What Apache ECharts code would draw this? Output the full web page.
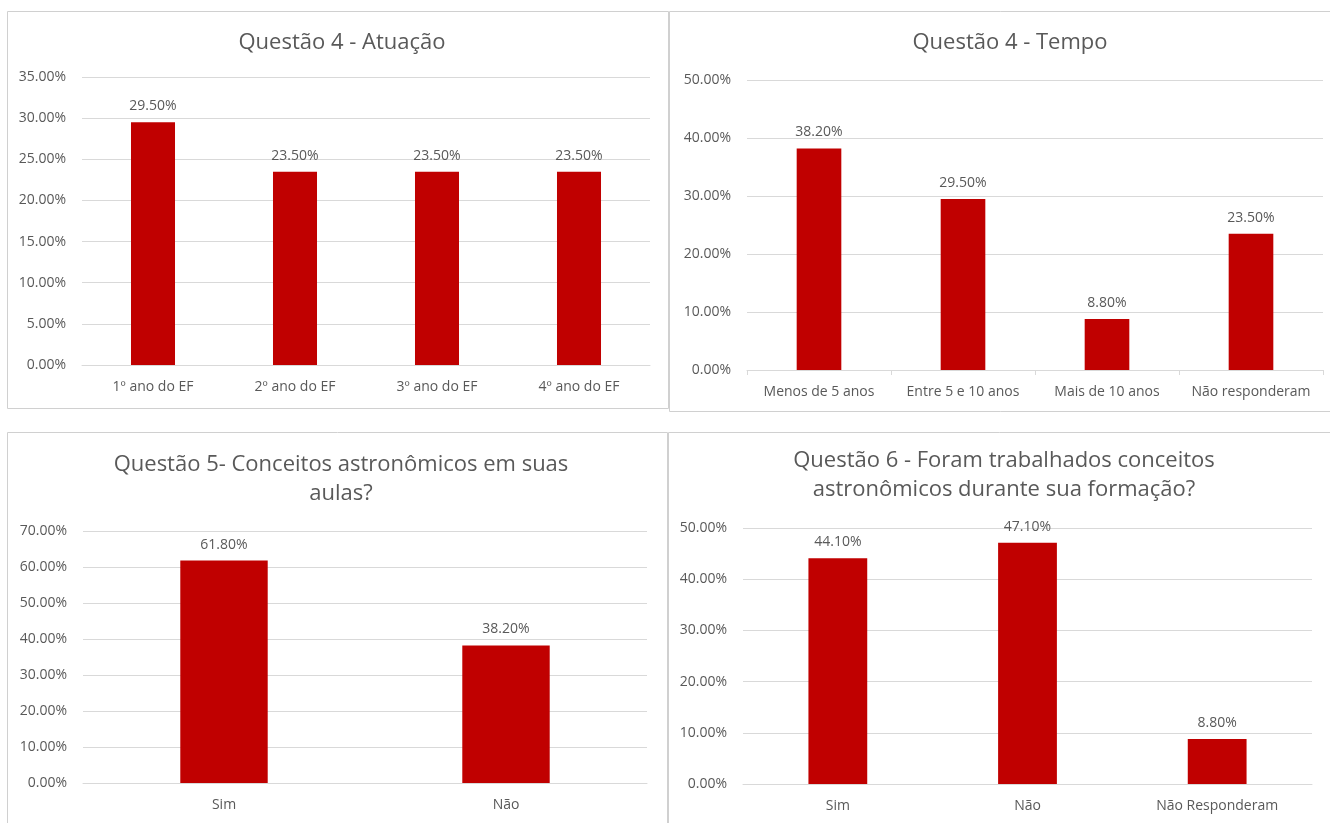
<!DOCTYPE html>
<html><head><meta charset="utf-8">
<script src="https://cdn.jsdelivr.net/npm/echarts@6/dist/echarts.min.js"></script>
<style>html,body{margin:0;padding:0;background:#fff}#c{width:1330px;height:823px}</style>
</head><body><div id="c"></div>
<script>
const cats1 = ['1º ano do EF','2º ano do EF','3º ano do EF','4º ano do EF'];
const vals1 = [29.5,23.5,23.5,23.5];
const cats2 = ['Menos de 5 anos','Entre 5 e 10 anos','Mais de 10 anos','Não responderam'];
const vals2 = [38.2,29.5,8.8,23.5];
const cats3 = ['Sim','Não'];
const vals3 = [61.8,38.2];
const cats4 = ['Sim','Não','Não Responderam'];
const vals4 = [44.1,47.1,8.8];
const titles = ['Questão 4 - Atuação','Questão 4 - Tempo','Questão 5- Conceitos astronômicos em suas\naulas?','Questão 6 - Foram trabalhados conceitos\nastronômicos durante sua formação?'];
const yMax = [35,50,70,50];
const yInt = [5,10,10,10];

const FONT = '"Open Sans", sans-serif';
const TXT = '#595959';
const RED = '#C00000';
const GRID = '#D9D9D9';

const grids = [
  {left:82, width:568, top:77, height:288},
  {left:747, width:576, top:80, height:290},
  {left:83, width:564, top:531, height:252},
  {left:743, width:569, top:528, height:256}
];
const titlePos = [
  {x:337, y:23},
  {x:1005, y:23},
  {x:336, y:445},
  {x:999, y:441}
];
const catsAll = [cats1,cats2,cats3,cats4];
const valsAll = [vals1,vals2,vals3,vals4];

const option = {
  backgroundColor:'#fff',
  animation:false,
  title: titles.map((t,i)=>({
    text:t, left:titlePos[i].x, top:titlePos[i].y, textAlign:'center',
    textStyle:{fontFamily:FONT, fontSize:22, fontWeight:'normal', color:TXT, lineHeight:29}
  })),
  grid: grids,
  xAxis: catsAll.map((c,i)=>({
    type:'category', gridIndex:i, data:c,
    axisLine:{show:true, lineStyle:{color:GRID, width:1}},
    axisTick:{show:i===1, alignWithLabel:false, length:5, lineStyle:{color:GRID}},
    axisLabel:{fontFamily:FONT, fontSize:14, color:TXT, margin:15, interval:0, hideOverlap:false}
  })),
  yAxis: yMax.map((m,i)=>({
    type:'value', gridIndex:i, min:0, max:m, interval:yInt[i],
    axisLine:{show:false}, axisTick:{show:false},
    splitLine:{lineStyle:{color:GRID, width:1}},
    axisLabel:{fontFamily:FONT, fontSize:14, color:TXT, margin:16, formatter:v=>v.toFixed(2)+'%'}
  })),
  series: valsAll.map((v,i)=>({
    type:'bar', xAxisIndex:i, yAxisIndex:i, data:v, barWidth:'31%',
    itemStyle:{color:RED},
    label:{show:true, position:'top', distance:9, fontFamily:FONT, fontSize:14, color:TXT,
      formatter:p=>p.value.toFixed(2)+'%'}
  })),
  graphic: [
    {type:'rect', shape:{x:7.5,y:11.5,width:661,height:397}, style:{fill:'none', stroke:'#D0D0D0', lineWidth:1}, silent:true},
    {type:'rect', shape:{x:669.5,y:11.5,width:680,height:400}, style:{fill:'none', stroke:'#D0D0D0', lineWidth:1}, silent:true},
    {type:'rect', shape:{x:7.5,y:432.5,width:660,height:420}, style:{fill:'none', stroke:'#D0D0D0', lineWidth:1}, silent:true},
    {type:'rect', shape:{x:668.5,y:432.5,width:680,height:420}, style:{fill:'none', stroke:'#D0D0D0', lineWidth:1}, silent:true}
  ]
};
const chart = echarts.init(document.getElementById('c'));
chart.setOption(option);
</script></body></html>
